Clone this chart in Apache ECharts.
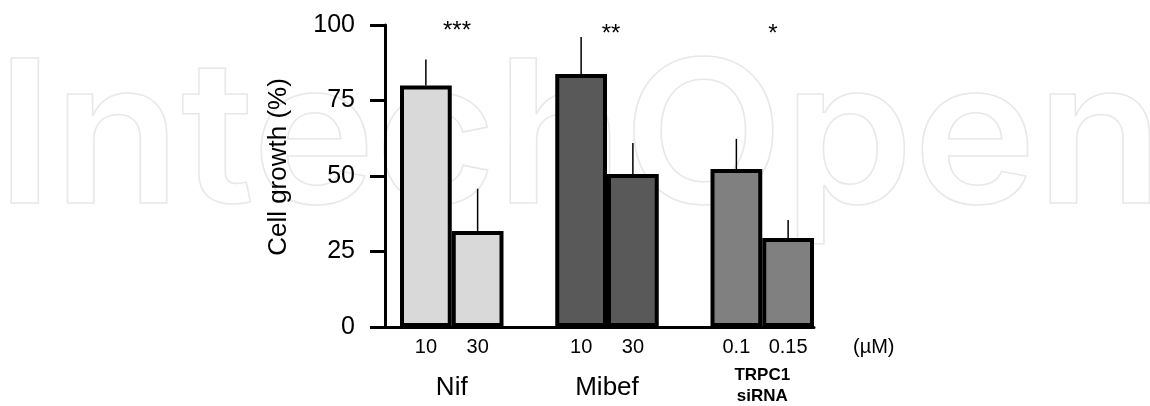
<!DOCTYPE html>
<html>
<head>
<meta charset="utf-8">
<script src="https://cdn.jsdelivr.net/npm/echarts@6/dist/echarts.min.js"></script>
<style>html,body{margin:0;padding:0;background:#fff}#c{width:1150px;height:406px}</style>
</head>
<body>
<div id="c"></div>
<script>
// ---- data ----
var doseLabels = ['10', '30', '', '10', '30', '', '0.1', '0.15'];
var barGroup   = ['Nif', 'Nif', null, 'Mibef', 'Mibef', null, 'TRPC1', 'TRPC1'];
var means      = [80, 31.8, null, 83.8, 50.7, null, 52.3, 29.5];
var errors     = [8.6, 14, null, 12.2, 10.2, null, 10, 5.9];
var groupTicks = ['', 'Nif', '', '', 'Mibef', '', '', 'TRPC1\nsiRNA', ''];
var yTicks     = [0, 25, 50, 75, 100];
var stars      = ['***', '**', '*'];

// ---- styles ----
var groupColor = { 'Nif': '#d9d9d9', 'Mibef': '#595959', 'TRPC1': '#808080' };
var FONT = '"Liberation Sans", Arial, sans-serif';

var chart = echarts.init(document.getElementById('c'), null, { renderer: 'canvas' });

var barData = means.map(function (v, i) {
  if (v == null) return null;
  return { value: v, itemStyle: { color: groupColor[barGroup[i]] } };
});
var errData = [];
means.forEach(function (v, i) { if (v != null) errData.push([i, v, errors[i]]); });

var starPos = [[457, 31], [611, 34], [773, 34]];

var option = {
  animation: false,
  backgroundColor: '#fff',
  textStyle: { fontFamily: FONT, color: '#000' },
  grid: [
    { left: 385, right: 336, top: 25, bottom: 79, containLabel: false, outerBoundsMode: 'none' },
    { left: 400, right: 336, top: 25, bottom: 79, containLabel: false, outerBoundsMode: 'none' }
  ],
  xAxis: [
    { gridIndex: 0, type: 'category', data: [''], position: 'bottom',
      axisLine: { show: true, lineStyle: { color: '#000', width: 3 } },
      axisTick: { show: false }, axisLabel: { show: false }, splitLine: { show: false } },
    { gridIndex: 1, type: 'category', data: doseLabels, position: 'bottom',
      axisLine: { show: false }, axisTick: { show: false },
      axisLabel: { interval: 0, fontSize: 20, color: '#000', margin: 10, fontFamily: FONT },
      name: '(\u00b5M)', nameLocation: 'end', nameGap: 39,
      nameTextStyle: { fontSize: 20, color: '#000', fontFamily: FONT, verticalAlign: 'top', lineHeight: 20, padding: [10, 0, 0, 0] } },
    { gridIndex: 1, type: 'category', data: groupTicks, boundaryGap: false, position: 'bottom', offset: 0,
      axisLine: { show: false }, axisTick: { show: false },
      axisLabel: { interval: 0, margin: 38, color: '#000', fontFamily: FONT,
        formatter: function (v) {
          if (!v) return '';
          if (v.indexOf('\n') >= 0) return v.split('\n').map(function (s) { return '{b|' + s + '}'; }).join('\n');
          return '{n|' + v + '}';
        },
        rich: {
          n: { fontSize: 26, lineHeight: 46, fontFamily: FONT, color: '#000' },
          b: { fontSize: 17, lineHeight: 21, fontWeight: 'bold', fontFamily: FONT, color: '#000' }
        } } }
  ],
  yAxis: [
    { gridIndex: 0, type: 'value', min: 0, max: 100, interval: 25,
      axisLine: { show: true, lineStyle: { color: '#000', width: 3 } },
      axisTick: { show: true, length: 15, lineStyle: { color: '#000', width: 3 } },
      axisLabel: { fontSize: 25, color: '#000', margin: 30, fontFamily: FONT,
        formatter: function (v) { return yTicks.indexOf(v) >= 0 ? String(v) : ''; } },
      splitLine: { show: false },
      name: 'Cell growth (%)', nameLocation: 'middle', nameGap: 93, nameRotate: 90,
      nameTextStyle: { fontSize: 26, color: '#000', fontFamily: FONT, padding: [0, 0, 0, 18] } },
    { gridIndex: 1, type: 'value', min: 0, max: 100, interval: 25, show: false }
  ],
  graphic: [
    { type: 'text', z: -10, silent: true, x: -4, y: 243, scaleX: 1.045,
      style: { text: 'IntechOpen', fontFamily: 'Inter', fontWeight: 600, fontSize: 199, fill: 'none',
        stroke: '#e8e8e8', lineWidth: 1.5, align: 'left', verticalAlign: 'bottom' } }
  ].concat(stars.map(function (s, i) {
    return { type: 'text', z: 10, x: starPos[i][0], y: starPos[i][1],
      style: { text: s, fontFamily: FONT, fontSize: 24, fill: '#000', align: 'center', verticalAlign: 'middle' } };
  })),
  series: [
    { type: 'bar', xAxisIndex: 1, yAxisIndex: 1, data: barData,
      barWidth: '100%', z: 3,
      itemStyle: { borderColor: '#000', borderWidth: 4 } },
    { type: 'custom', xAxisIndex: 1, yAxisIndex: 1, data: errData, z: 4,
      renderItem: function (params, api) {
        var p0 = api.coord([api.value(0), api.value(1)]);
        var p1 = api.coord([api.value(0), api.value(1) + api.value(2)]);
        return { type: 'line', shape: { x1: p0[0], y1: p0[1], x2: p1[0], y2: p1[1] },
          style: { stroke: '#000', lineWidth: 1.5 } };
      } }
  ]
};
chart.setOption(option);
</script>
</body>
</html>
